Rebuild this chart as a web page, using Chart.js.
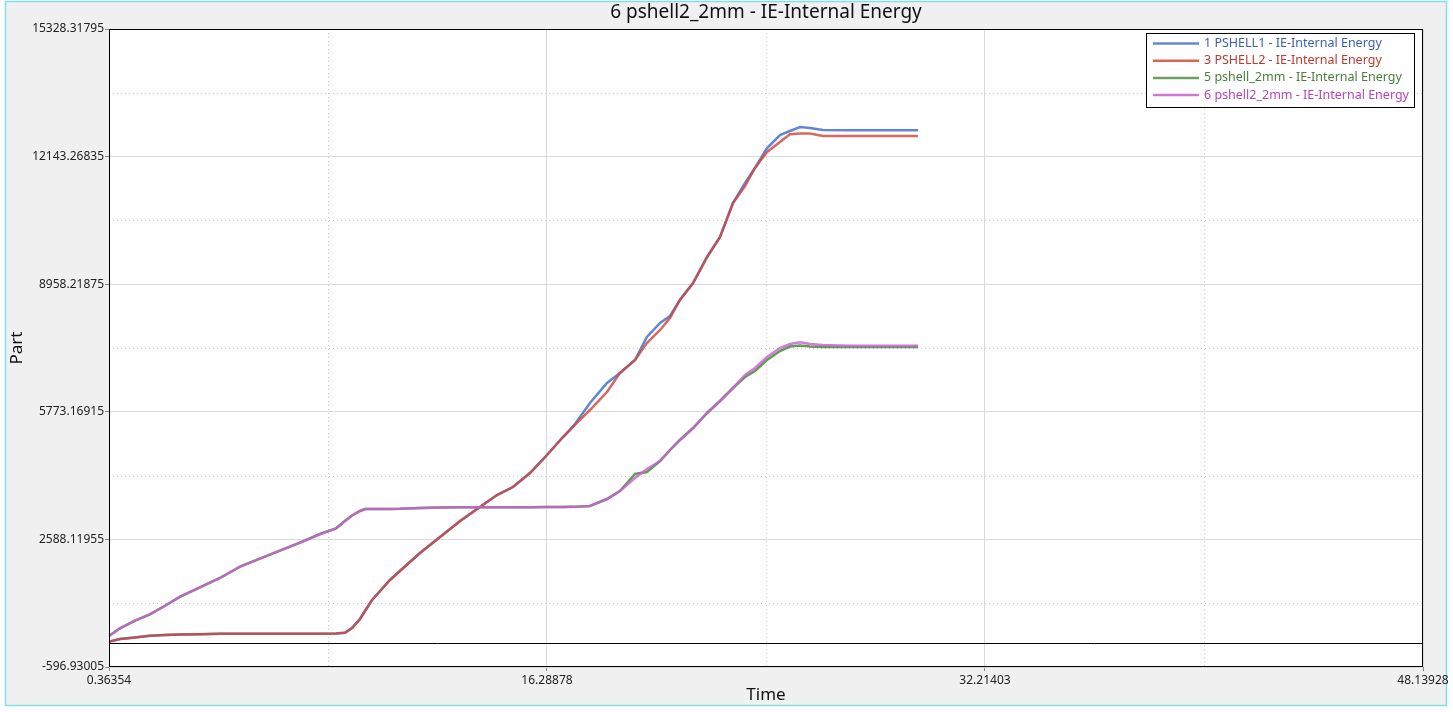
<!DOCTYPE html>
<html>
<head>
<meta charset="utf-8">
<title>6 pshell2_2mm - IE-Internal Energy</title>
<script src="https://cdn.jsdelivr.net/npm/chart.js@4.4.1/dist/chart.umd.min.js"></script>
<style>
    body { margin: 0; background: #ffffff; }
    canvas { display: block; }
</style>
</head>
<body>
<canvas id="graphic-1" width="1453" height="712"></canvas>
<script>
//datos
const time = [0.36, 0.76, 1.31, 1.85, 2.40, 2.95, 3.67, 4.40, 5.13, 5.85, 6.58, 7.31, 8.04, 8.62, 8.94,
    9.20, 9.49, 9.67, 9.93, 10.22, 10.58, 10.94, 11.67, 12.40, 13.13, 13.85, 14.47, 15.05, 15.67, 16.29,
    16.87, 17.23, 17.85, 18.47, 18.94, 19.49, 19.92, 20.40, 20.76, 21.12, 21.60, 22.11, 22.58, 23.05, 23.49,
    23.85, 24.29, 24.76, 25.12, 25.49, 25.85, 26.32, 27.31, 28.40, 29.78];

const pshell1 = [34, 102, 139, 182, 202, 214, 222, 230, 232, 234, 235, 236, 236, 237, 259,
    376, 601, 801, 1075, 1300, 1575, 1799, 2249, 2648, 3047, 3397, 3696, 3896, 4245, 4695,
    5144, 5394, 5993, 6492, 6742, 7066, 7640, 7990, 8164, 8564, 8988, 9637, 10136, 10985, 11484,
    11859, 12358, 12682, 12782, 12882, 12857, 12807, 12800, 12800, 12800];

const pshell2 = [34, 102, 139, 182, 202, 214, 222, 230, 232, 234, 235, 236, 236, 237, 259,
    376, 601, 801, 1075, 1300, 1575, 1799, 2249, 2648, 3047, 3397, 3696, 3896, 4245, 4695,
    5144, 5394, 5818, 6267, 6742, 7066, 7490, 7815, 8114, 8564, 8988, 9637, 10136, 10985, 11409,
    11859, 12258, 12508, 12700, 12720, 12720, 12657, 12657, 12657, 12657];

const pshell_2mm = [177, 369, 561, 716, 931, 1160, 1388, 1625, 1907, 2106, 2306, 2508, 2723, 2865, 3047,
    3185, 3297, 3347, 3347, 3347, 3350, 3352, 3372, 3385, 3389, 3389, 3390, 3390, 3392, 3395,
    3398, 3400, 3422, 3596, 3796, 4220, 4270, 4545, 4820, 5069, 5369, 5743, 6043, 6367, 6642,
    6791, 7066, 7291, 7403, 7428, 7403, 7391, 7391, 7391, 7391];

const pshell2_2mm = [177, 369, 561, 716, 931, 1160, 1388, 1625, 1907, 2106, 2306, 2508, 2723, 2865, 3047,
    3185, 3297, 3347, 3347, 3347, 3350, 3352, 3372, 3385, 3389, 3389, 3390, 3390, 3392, 3395,
    3398, 3400, 3422, 3596, 3796, 4121, 4345, 4545, 4820, 5069, 5369, 5743, 6043, 6367, 6692,
    6866, 7141, 7366, 7465, 7508, 7465, 7440, 7423, 7423, 7423];

const seriesNames = ['1 PSHELL1 - IE-Internal Energy', '3 PSHELL2 - IE-Internal Energy',
    '5 pshell_2mm - IE-Internal Energy', '6 pshell2_2mm - IE-Internal Energy'];

//etiquetas de los ejes
const xTicks = [0.36354, 16.28878, 32.21403, 48.13928];
const yTicks = [-596.93005, 2588.11955, 5773.16915, 8958.21875, 12143.26835, 15328.31795];

Chart.defaults.font.family = "'Noto Sans', 'Open Sans', sans-serif";

let graphic1 = document.getElementById('graphic-1');
let myChart1;

function pairs(values) {
    return values.map((v, i) => ({ x: time[i], y: v }));
}

//fondo, marco cian y area blanca
const backgroundPlugin = {
    id: 'background',
    beforeDraw(chart) {
        const ctx = chart.ctx;
        const a = chart.chartArea;
        ctx.save();
        ctx.fillStyle = '#ffffff';
        ctx.fillRect(0, 0, chart.width, chart.height);
        ctx.fillStyle = '#f0f0f0';
        ctx.fillRect(5, 1, chart.width - 11, chart.height - 7);
        ctx.strokeStyle = '#7fe1e8';
        ctx.lineWidth = 1.5;
        ctx.strokeRect(5.5, 1.5, chart.width - 12, chart.height - 8);
        ctx.fillStyle = '#ffffff';
        ctx.fillRect(a.left, a.top, a.right - a.left, a.bottom - a.top);
        ctx.restore();
    }
};

//lineas punteadas entre las lineas principales
const minorGridPlugin = {
    id: 'minorGrid',
    beforeDatasetsDraw(chart) {
        const ctx = chart.ctx;
        const a = chart.chartArea;
        const xs = chart.scales.x;
        const ys = chart.scales.y;
        ctx.save();
        ctx.strokeStyle = '#c8c8c8';
        ctx.lineWidth = 1;
        ctx.setLineDash([1, 3]);
        for (let i = 0; i < xTicks.length - 1; i++) {
            const px = Math.round(xs.getPixelForValue((xTicks[i] + xTicks[i + 1]) / 2)) + 0.5;
            ctx.beginPath();
            ctx.moveTo(px, a.top);
            ctx.lineTo(px, a.bottom);
            ctx.stroke();
        }
        for (let i = 0; i < yTicks.length - 1; i++) {
            const py = Math.round(ys.getPixelForValue((yTicks[i] + yTicks[i + 1]) / 2)) + 0.5;
            ctx.beginPath();
            ctx.moveTo(a.left, py);
            ctx.lineTo(a.right, py);
            ctx.stroke();
        }
        ctx.restore();
    },
    afterDatasetsDraw(chart) {
        const ctx = chart.ctx;
        const a = chart.chartArea;
        const zero = Math.round(chart.scales.y.getPixelForValue(0)) + 0.5;
        ctx.save();
        ctx.strokeStyle = '#000000';
        ctx.lineWidth = 1;
        ctx.beginPath();
        ctx.moveTo(a.left, zero);
        ctx.lineTo(a.right, zero);
        ctx.stroke();
        ctx.strokeRect(Math.round(a.left) + 0.5, Math.round(a.top) + 0.5,
            Math.round(a.right - a.left) - 1, Math.round(a.bottom - a.top) - 1);
        ctx.restore();
    }
};

//leyenda dentro del grafico
const boxLegendPlugin = {
    id: 'boxLegend',
    afterDraw(chart) {
        const ctx = chart.ctx;
        const a = chart.chartArea;
        const right = Math.round(a.right) - 9;
        const left = right - 268;
        const top = Math.round(a.top) + 4;
        ctx.save();
        ctx.fillStyle = '#ffffff';
        ctx.fillRect(left, top, 268, 74);
        ctx.strokeStyle = '#000000';
        ctx.lineWidth = 1;
        ctx.strokeRect(left + 0.5, top + 0.5, 268, 74);
        ctx.font = "12.5px 'Noto Sans', 'Open Sans', sans-serif";
        ctx.textBaseline = 'middle';
        chart.data.datasets.forEach((ds, i) => {
            const y = top + 10.5 + i * 17.2;
            ctx.strokeStyle = ds.legendLine;
            ctx.lineWidth = 2.5;
            ctx.beginPath();
            ctx.moveTo(left + 7, y);
            ctx.lineTo(left + 53, y);
            ctx.stroke();
            ctx.fillStyle = ds.legendText;
            ctx.fillText(ds.label, left + 58, y);
        });
        ctx.restore();
    }
};

function graph1() {
    if (myChart1) {
        myChart1.destroy();
    }

    myChart1 = new Chart(graphic1, {
        type: 'line',
        data: {
            datasets: [
                {
                    label: seriesNames[0],
                    data: pairs(pshell1),
                    borderColor: 'rgba(88, 128, 212, 0.95)',
                    legendLine: '#6388d6',
                    legendText: '#3c5fae',
                    order: 4
                },
                {
                    label: seriesNames[1],
                    data: pairs(pshell2),
                    borderColor: 'rgba(205, 72, 62, 0.82)',
                    legendLine: '#db6459',
                    legendText: '#b83a30',
                    order: 3
                },
                {
                    label: seriesNames[2],
                    data: pairs(pshell_2mm),
                    borderColor: 'rgba(92, 150, 78, 0.95)',
                    legendLine: '#6aa25c',
                    legendText: '#4a7e3c',
                    order: 2
                },
                {
                    label: seriesNames[3],
                    data: pairs(pshell2_2mm),
                    borderColor: 'rgba(200, 96, 210, 0.82)',
                    legendLine: '#d374dc',
                    legendText: '#b443bc',
                    order: 1
                }
            ]
        },
        options: {
            responsive: false,
            animation: false,
            parsing: false,
            layout: {
                padding: { left: 0, right: 30, top: 0, bottom: 0 }
            },
            elements: {
                point: { radius: 0 },
                line: { borderWidth: 2.5, tension: 0, fill: false }
            },
            scales: {
                x: {
                    type: 'linear',
                    min: xTicks[0],
                    max: xTicks[xTicks.length - 1],
                    afterBuildTicks: (s) => { s.ticks = xTicks.map(v => ({ value: v })); },
                    afterFit: (s) => { s.height = 45; },
                    ticks: {
                        autoSkip: false,
                        maxRotation: 0,
                        padding: 2,
                        color: '#222222',
                        font: { size: 12 },
                        callback: (v) => v.toFixed(5)
                    },
                    grid: { color: '#dadada', tickColor: '#888888', tickLength: 4 },
                    border: { display: false },
                    title: {
                        display: true,
                        text: 'Time',
                        color: '#111111',
                        font: { size: 17 },
                        padding: { top: 0, bottom: 6.8 }
                    }
                },
                y: {
                    type: 'linear',
                    min: yTicks[0],
                    max: yTicks[yTicks.length - 1],
                    afterBuildTicks: (s) => { s.ticks = yTicks.map(v => ({ value: v })); },
                    afterFit: (s) => { s.width = 109; },
                    ticks: {
                        autoSkip: false,
                        padding: 1,
                        color: '#222222',
                        font: { size: 12 },
                        callback: (v) => v.toFixed(5)
                    },
                    grid: { color: '#dadada', tickColor: '#888888', tickLength: 4 },
                    border: { display: false },
                    title: {
                        display: true,
                        text: 'Part',
                        color: '#111111',
                        font: { size: 17 },
                        padding: { top: 6.8, bottom: 0 }
                    }
                }
            },
            plugins: {
                legend: { display: false },
                tooltip: { enabled: false },
                title: {
                    display: true,
                    text: '6 pshell2_2mm - IE-Internal Energy',
                    fullSize: false,
                    color: '#111111',
                    font: { size: 19, weight: 'normal' },
                    padding: { top: 1, bottom: 5.2 }
                }
            }
        },
        plugins: [backgroundPlugin, minorGridPlugin, boxLegendPlugin]
    });
}

graph1();
</script>
</body>
</html>
